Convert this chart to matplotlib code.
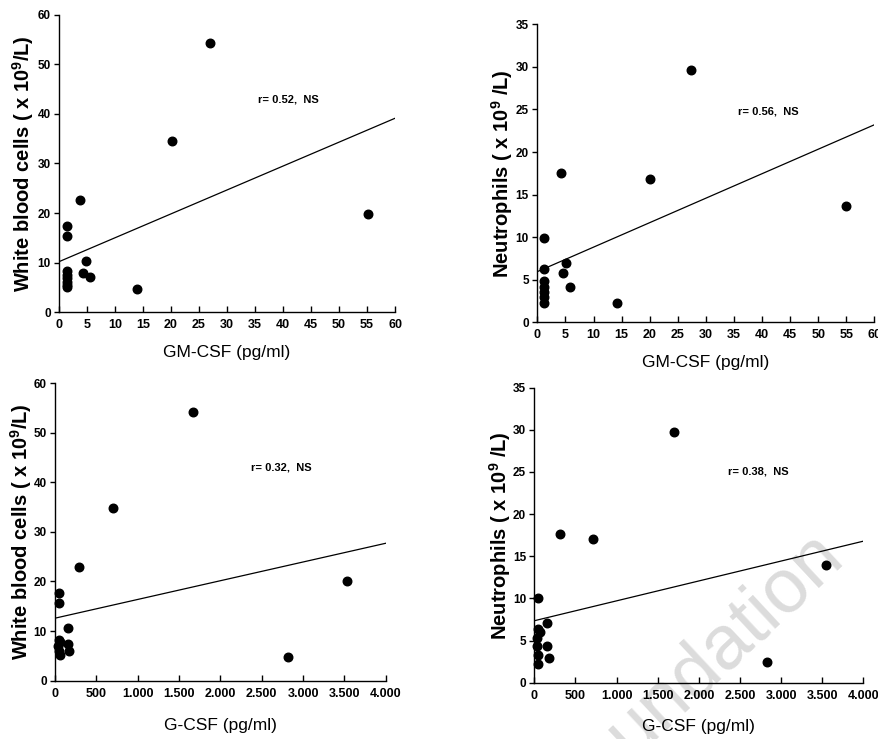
import matplotlib
matplotlib.use("Agg")
import matplotlib.pyplot as plt
import numpy as np

plt.rcParams['font.family'] = ['Liberation Sans', 'DejaVu Sans']
plt.rcParams['mathtext.fontset'] = 'custom'
plt.rcParams['mathtext.rm'] = 'Liberation Sans'
plt.rcParams['mathtext.default'] = 'regular'

# ---- data ----
gm_wbc_x = [27.0, 20.1, 3.8, 55.2, 1.4, 1.4, 4.9, 4.3, 5.5, 13.9, 1.4, 1.4, 1.4, 1.4, 1.4, 1.4]
gm_wbc_y = [54.2, 34.5, 22.6, 19.8, 17.3, 15.3, 10.4, 8.0, 7.1, 4.6, 8.3, 7.6, 6.9, 6.2, 5.5, 5.0]

gm_neu_x = [27.4, 4.2, 20.1, 55.0, 1.1, 1.1, 5.1, 4.6, 5.9, 14.2, 1.1, 1.1, 1.1, 1.1, 1.1]
gm_neu_y = [29.6, 17.5, 16.8, 13.7, 9.9, 6.3, 7.0, 5.8, 4.1, 2.3, 4.8, 4.2, 3.6, 3.0, 2.3]

g_wbc_x = [1669, 702, 294, 3536, 2823, 48, 48, 153, 153, 173, 50, 65, 40, 45, 55]
g_wbc_y = [54.2, 34.9, 23.0, 20.0, 4.7, 17.7, 15.7, 10.7, 7.4, 6.0, 8.3, 7.8, 7.0, 6.0, 5.2]

g_neu_x = [1698, 308, 717, 3546, 2833, 49, 158, 158, 178, 40, 70, 30, 35, 40, 45]
g_neu_y = [29.7, 17.6, 17.0, 14.0, 2.4, 10.1, 7.1, 4.3, 2.9, 6.4, 6.0, 5.3, 4.3, 3.3, 2.2]

# regression lines: (intercept, slope)
fits = [(10.2, 0.4817), (5.95, 0.2875), (12.6, 0.003775), (7.35, 0.00236)]
r_labels = ["r= 0.52,  NS", "r= 0.56,  NS", "r= 0.32,  NS", "r= 0.38,  NS"]
r_pos = [(35.6, 42.8), (35.7, 24.7), (2367, 42.9), (2359, 25.0)]

gm_ticks = list(range(0, 61, 5))
g_ticks = [0, 500, 1000, 1500, 2000, 2500, 3000, 3500, 4000]
g_ticklabels = ["0", "500", "1.000", "1.500", "2.000", "2.500", "3.000", "3.500", "4.000"]
wbc_ticks = list(range(0, 61, 10))
neu_ticks = list(range(0, 36, 5))

wbc_label = r"White blood cells ( x 10$^9$/L)"
neu_label = r"Neutrophils ( x 10$^9$ /L)"

fig = plt.figure(figsize=(8.79, 7.39), dpi=100)

panels = [
    dict(rect=[0.0671, 0.5774, 0.3823, 0.4029], x=gm_wbc_x, y=gm_wbc_y, xmax=60, ymax=60,
         xt=gm_ticks, xtl=[str(t) for t in gm_ticks], yt=wbc_ticks, xl="GM-CSF (pg/ml)", yl=wbc_label,
         xlc=-0.135, ylc=-0.107),
    dict(rect=[0.6113, 0.5639, 0.3834, 0.4032], x=gm_neu_x, y=gm_neu_y, xmax=60, ymax=35,
         xt=gm_ticks, xtl=[str(t) for t in gm_ticks], yt=neu_ticks, xl="GM-CSF (pg/ml)", yl=neu_label,
         xlc=-0.135, ylc=-0.105),
    dict(rect=[0.0626, 0.0789, 0.3762, 0.4028], x=g_wbc_x, y=g_wbc_y, xmax=4000, ymax=60,
         xt=g_ticks, xtl=g_ticklabels, yt=wbc_ticks, xl="G-CSF (pg/ml)", yl=wbc_label,
         xlc=-0.149, ylc=-0.103),
    dict(rect=[0.6079, 0.0762, 0.3743, 0.3992], x=g_neu_x, y=g_neu_y, xmax=4000, ymax=35,
         xt=g_ticks, xtl=g_ticklabels, yt=neu_ticks, xl="G-CSF (pg/ml)", yl=neu_label,
         xlc=-0.150, ylc=-0.104),
]

tickfont = ['Liberation Sans Narrow', 'Liberation Sans', 'DejaVu Sans']

for i, p in enumerate(panels):
    ax = fig.add_axes(p['rect'])
    ax.set_facecolor('none')
    ax.scatter(p['x'], p['y'], s=38, color='black', marker='o', zorder=3, clip_on=False)
    b0, b1 = fits[i]
    xs = np.array([0, p['xmax']])
    ax.plot(xs, b0 + b1 * xs, color='black', lw=0.9, zorder=2)
    ax.set_xlim(0, p['xmax'])
    ax.set_ylim(0, p['ymax'])
    ax.set_xticks(p['xt'])
    ax.set_xticklabels(p['xtl'], family=tickfont, fontsize=9, fontweight='bold')
    ax.set_yticks(p['yt'])
    ax.set_yticklabels([str(t) for t in p['yt']], family=tickfont, fontsize=8.5, fontweight='bold')
    for s in ['top', 'right']:
        ax.spines[s].set_visible(False)
    for s in ['left', 'bottom']:
        ax.spines[s].set_linewidth(1.0)
    ax.tick_params(axis='x', direction='in', length=4, width=1.0, pad=5)
    ax.tick_params(axis='y', direction='out', length=3.5, width=1.0, pad=2.5)
    ax.set_xlabel(p['xl'], fontsize=12.5)
    ax.set_ylabel(p['yl'], fontsize=14.5, fontweight='bold')
    ax.xaxis.label.set_va('center')
    ax.yaxis.label.set_va('center')
    ax.xaxis.set_label_coords(0.5, p['xlc'])
    ax.yaxis.set_label_coords(p['ylc'], 0.5)
    ax.text(r_pos[i][0], r_pos[i][1], r_labels[i], fontsize=8, fontweight='bold',
            ha='left', va='center')

# faint watermark
fig.text(0.962, 0.246, "Foundation", fontsize=55, color='#dcdcdc', rotation=43,
         rotation_mode='anchor', ha='right', va='baseline', zorder=-1)

fig.savefig("out.png", dpi=100, facecolor='white')
